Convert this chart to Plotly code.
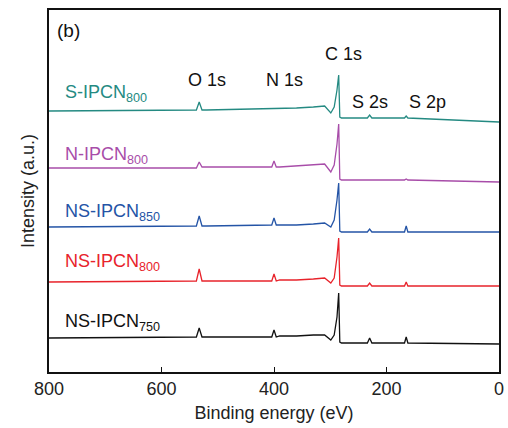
import plotly.graph_objects as go

# Binding energy (eV) vertices shared by all spectra
be = [800, 545, 538, 533, 528, 520, 410, 404, 400, 396, 390, 360, 330, 310, 299, 293, 288, 285, 283, 280,
      240, 234, 230, 226, 172, 168, 165, 162, 0]

# Intensities (a.u., offset stacked)
ns750 = [34, 35, 35, 44, 35, 35, 35, 35, 42, 35, 36, 36, 37, 37, 32, 37, 55, 79, 30, 29,
         29, 29, 34, 29, 29, 29, 35, 29, 28]
ns800 = [90, 91, 91, 103, 91, 91, 91, 91, 98, 91, 92, 92, 93, 94, 89, 94, 115, 134, 87, 86,
         86, 86, 89, 86, 86, 86, 90, 86, 86]
ns850 = [145, 146, 146, 156, 146, 146, 147, 147, 154, 147, 147, 147, 148, 149, 145, 152, 172, 189, 141, 140,
         140, 140, 143, 140, 140, 140, 146, 140, 140]
n800 = [204, 204, 204, 210, 205, 205, 205, 205, 211, 205, 205, 206, 207, 208, 200, 207, 228, 248, 193, 192,
        192, 192, 192, 192, 192, 192, 193, 192, 190]
s800 = [261, 262, 262, 270, 262, 262, 263, 263, 263, 263, 263, 264, 265, 266, 259, 265, 282, 297, 255, 254,
        254, 254, 257, 254, 254, 254, 256, 254, 250]

series = [
    ("NS-IPCN<sub>750</sub>", ns750, "#111111", 50),
    ("NS-IPCN<sub>800</sub>", ns800, "#e8232b", 110),
    ("NS-IPCN<sub>850</sub>", ns850, "#2454a6", 160),
    ("N-IPCN<sub>800</sub>", n800, "#a84da9", 217),
    ("S-IPCN<sub>800</sub>", s800, "#248a82", 279),
]

peaks = ["O 1s", "N 1s", "C 1s", "S 2s", "S 2p"]
peak_x = [520, 381, 276, 230, 128]
peak_y = [292, 292, 318, 270, 270]

FONT = "Liberation Sans, Arial, sans-serif"

fig = go.Figure()
annotations = []
for name, ys, color, ly in series:
    fig.add_trace(go.Scatter(x=be, y=ys, mode="lines", line=dict(color=color, width=1.3),
                             showlegend=False, hoverinfo="skip"))
    annotations.append(dict(x=775, y=ly, xref="x", yref="y", text=name, showarrow=False,
                            xanchor="left", yanchor="middle",
                            font=dict(family=FONT, size=18, color=color)))

for t, px_, py_ in zip(peaks, peak_x, peak_y):
    annotations.append(dict(x=px_, y=py_, xref="x", yref="y", text=t, showarrow=False,
                            xanchor="center", yanchor="middle",
                            font=dict(family=FONT, size=18, color="#111111")))

annotations.append(dict(x=766, y=342, xref="x", yref="y", text="(b)", showarrow=False,
                        xanchor="center", yanchor="middle",
                        font=dict(family=FONT, size=19, color="#111111")))

fig.update_layout(
    width=508, height=428,
    margin=dict(l=49, r=4, t=10, b=56),
    plot_bgcolor="white", paper_bgcolor="white",
    font=dict(family=FONT, size=18, color="#222222"),
    annotations=annotations,
    xaxis=dict(range=[800, 0], tickvals=[800, 600, 400, 200, 0], ticks="inside", ticklen=5,
               tickwidth=1.2, tickcolor="#111", showline=True, linecolor="#111", linewidth=1.5,
               mirror=True, showgrid=False, zeroline=False,
               title=dict(text="Binding energy (eV)", standoff=8, font=dict(size=18)),
               tickfont=dict(size=18)),
    yaxis=dict(range=[0, 362], showticklabels=False, ticks="", showline=True, linecolor="#111",
               linewidth=1.5, mirror=True, showgrid=False, zeroline=False,
               title=dict(text="Intensity (a.u.)", standoff=8, font=dict(size=18))),
)

fig.write_html("out.html")
